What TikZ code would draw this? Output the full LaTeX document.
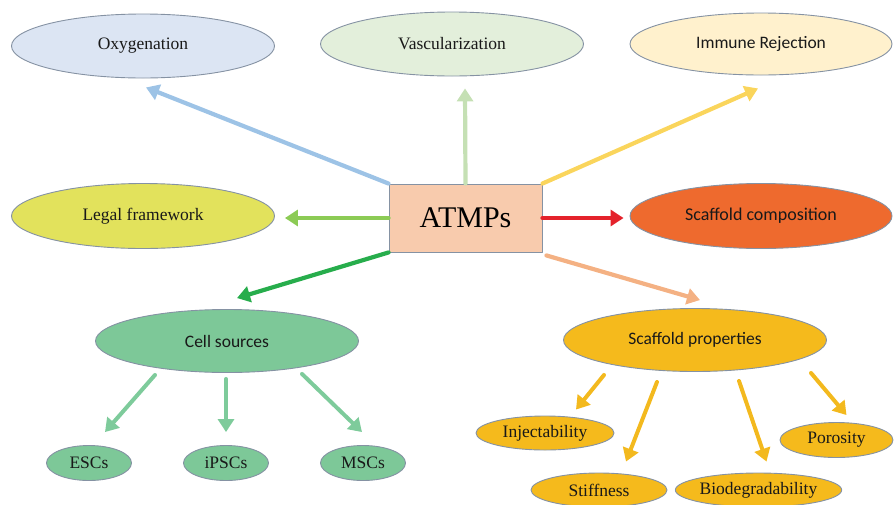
\documentclass[tikz,border=0pt]{standalone}
\usepackage{fontspec}
\setmainfont{Liberation Serif}
\newfontfamily\calfont{Carlito}
\usetikzlibrary{arrows.meta,shapes.geometric,calc}

\definecolor{rim}{HTML}{8592A3}
\definecolor{oxyfill}{HTML}{DCE5F3}
\definecolor{vascfill}{HTML}{E3EFDB}
\definecolor{immfill}{HTML}{FFF1CD}
\definecolor{legalfill}{HTML}{E2E25C}
\definecolor{compfill}{HTML}{EE6A2E}
\definecolor{atmpfill}{HTML}{F8CBAD}
\definecolor{cellfill}{HTML}{7DC898}
\definecolor{propfill}{HTML}{F5BA1C}
\definecolor{oxyarrow}{HTML}{9DC3E6}
\definecolor{vascarrow}{HTML}{C5E0B4}
\definecolor{immarrow}{HTML}{FAD55C}
\definecolor{legalarrow}{HTML}{8CCB55}
\definecolor{comparrow}{HTML}{E4222B}
\definecolor{cellarrow}{HTML}{27AD4C}
\definecolor{proparrow}{HTML}{F4B183}
\definecolor{leafcell}{HTML}{7ECB9B}
\definecolor{leafprop}{HTML}{F3B91E}

\begin{document}
\begin{tikzpicture}[
  x=1pt,y=-1pt,
  line cap=round,
  line join=round,
  >={Triangle[length=13pt,width=16pt]},
  bubble/.style={ellipse,draw=rim,line width=0.9pt,inner sep=0pt,text=black!90,
    font=\fontsize{17.5}{20}\selectfont},
  bigbubble/.style={bubble,minimum width=263,minimum height=64},
  calbubble/.style={bigbubble,font=\calfont\fontsize{17.5}{20}\selectfont},
  leaf/.style={bubble,minimum height=35},
  link/.style={->,line width=4.2pt},
  twig/.style={->,line width=4pt}
]
\useasboundingbox (0,0) rectangle (894,504);

% centre box
\node[rectangle,draw=rim,line width=0.9pt,fill=atmpfill,minimum width=153,minimum height=68,
  font=\fontsize{30}{34}\selectfont] (atmp) at (465.5,218) {ATMPs};

% top row
\node[bigbubble,fill=oxyfill] (oxy) at (143,46) {Oxygenation};
\node[bigbubble,fill=vascfill] (vasc) at (452,44) {Vascularization};
\node[calbubble,fill=immfill,minimum width=262,minimum height=62] (imm) at (761,44) {Immune Rejection};

% middle row
\node[bigbubble,fill=legalfill,minimum height=65] (legal) at (143,216) {Legal framework};
\node[calbubble,fill=compfill,minimum width=262,minimum height=65,
  font=\calfont\fontsize{18}{21}\selectfont] (comp) at (761,216) {Scaffold composition};

% cell sources branch
\node[calbubble,fill=cellfill,minimum height=63] (cells) at (227,341) {Cell sources};
\node[leaf,fill=cellfill,minimum width=85] (esc) at (89,463) {ESCs};
\node[leaf,fill=cellfill,minimum width=85] (ipsc) at (226,463) {iPSCs};
\node[leaf,fill=cellfill,minimum width=85] (msc) at (363,463) {MSCs};

% scaffold properties branch
\node[calbubble,fill=propfill,minimum height=63] (props) at (695,340) {Scaffold properties};
\node[leaf,fill=propfill,minimum width=138,minimum height=34] (inj) at (545,433) {Injectability};
\node[leaf,fill=propfill,minimum width=136,minimum height=34] (stiff) at (599,490) {Stiffness};
\node[leaf,fill=propfill,minimum width=146,minimum height=34] (bio) at (758.5,490) {Biodegradability};
\node[leaf,fill=propfill,minimum width=113] (por) at (836.5,440) {Porosity};

% arrows out of the centre box
\draw[link,oxyarrow] (atmp.north west) -- ([shift={(3,9)}]oxy.south);
\draw[link,vascarrow] (atmp.north) -- ([shift={(13,12)}]vasc.south);
\draw[link,immarrow] (atmp.north east) -- ([shift={(-3,13)}]imm.south);
\draw[link,legalarrow] (atmp.west) -- ($(legal.east |- atmp.west)+(10,0)$);
\draw[link,comparrow] (atmp.east) -- ($(comp.west |- atmp.east)+(-6,0)$);
\draw[link,cellarrow] (atmp.south west) -- ([shift={(10,-11)}]cells.north);
\draw[link,proparrow] ([shift={(4,3)}]atmp.south east) -- ([shift={(5,-8)}]props.north);

% cell sources
\draw[twig,leafcell] ([shift={(-72,2)}]cells.south) -- ([shift={(16,-13)}]esc.north);
\draw[twig,leafcell] ([shift={(-1,6)}]cells.south) -- ([shift={(0,-13)}]ipsc.north);
\draw[twig,leafcell] ([shift={(75,1)}]cells.south) -- ([shift={(-1,-13)}]msc.north);

% scaffold properties
\draw[twig,leafprop] ([shift={(-91,3)}]props.south) -- ([shift={(31,-6)}]inj.north);
\draw[twig,leafprop] ([shift={(-38,10)}]props.south) -- ([shift={(27,-11)}]stiff.north);
\draw[twig,leafprop] ([shift={(44,9)}]props.south) -- ([shift={(8,-11)}]bio.north);
\draw[twig,leafprop] ([shift={(116,1)}]props.south) -- ([shift={(10,-7)}]por.north);

\end{tikzpicture}
\end{document}
